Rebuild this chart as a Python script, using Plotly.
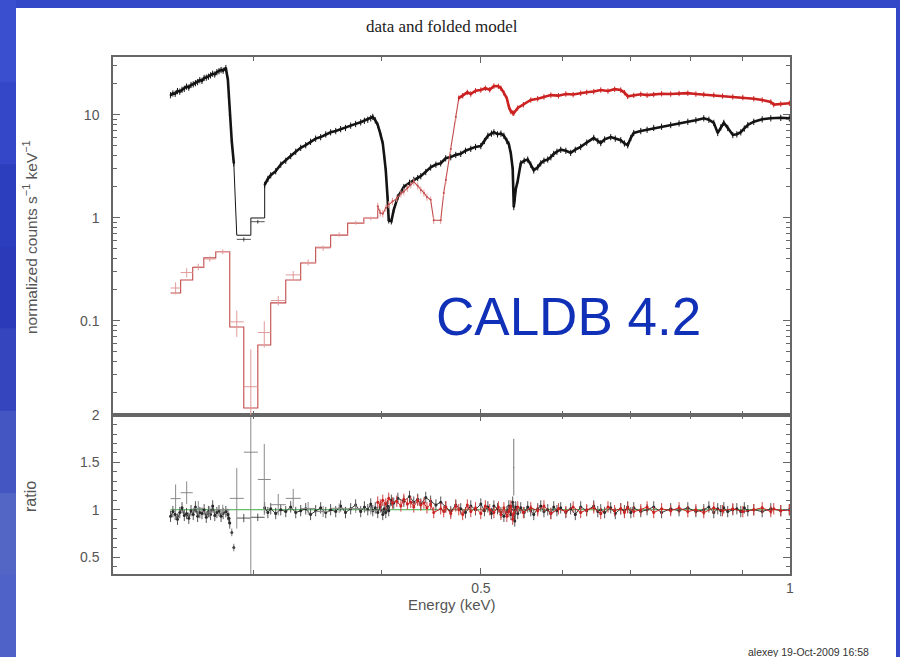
import math
import plotly.graph_objects as go

# ---------------------------------------------------------------------------
# Black spectrum, rising segment below the carbon edge (keV, counts/s/keV)
black_lo_E = [0.2492, 0.2505, 0.2518, 0.2531, 0.2544, 0.2557, 0.2570, 0.2583, 0.2596,
              0.2609, 0.2622, 0.2635, 0.2648, 0.2661, 0.2674, 0.2687, 0.2700, 0.2713,
              0.2726, 0.2739, 0.2752, 0.2765, 0.2778, 0.2791, 0.2804, 0.2821,
              0.2834, 0.2840, 0.2846, 0.2859, 0.2872]
black_lo_F = [15.6, 16.2, 16.1, 17.1, 16.9, 17.6, 18.0, 18.9, 18.5,
              19.6, 19.9, 20.4, 20.9, 21.8, 21.5, 22.9, 23.1, 23.6,
              24.3, 25.2, 24.8, 26.1, 26.7, 27.4, 27.0, 28.6,
              22.0, 15.0, 10.0, 5.5, 3.4]
black_lo_ratio = [0.93, 0.98, 0.95, 0.90, 0.97, 1.02, 0.94, 0.96, 0.91,
                  0.99, 0.95, 1.03, 0.93, 0.97, 0.96, 1.00, 0.92, 0.98,
                  0.95, 1.04, 0.94, 0.97, 0.99, 0.93, 0.96, 0.98,
                  0.95, 0.91, 0.86, 0.76, 0.60]

# Black coarse bins just above the carbon edge
black_bin_edges = [0.2891, 0.2984, 0.3078]
black_bin_model = [0.68, 1.00]
black_bin_data = [0.62, 0.92]
black_bin_err = [0.03, 0.04]

# Black spectrum above 0.31 keV
black_hi_E = [0.3078, 0.3100, 0.3120, 0.3155, 0.3191, 0.3227, 0.3263, 0.3300, 0.3337, 0.3375,
              0.3412, 0.3451, 0.3490, 0.3530, 0.3569, 0.3610, 0.3650, 0.3690, 0.3733, 0.3775,
              0.3818, 0.3850, 0.3879, 0.3905, 0.3923, 0.3945, 0.3967, 0.3990, 0.4012, 0.4025,
              0.4039, 0.4055, 0.4066, 0.4090, 0.4112, 0.4150, 0.4206, 0.4260, 0.4301, 0.4339,
              0.4369, 0.4418, 0.4467, 0.4520, 0.4569, 0.4620, 0.4673, 0.4726, 0.4779, 0.4830,
              0.4888, 0.4940, 0.4999, 0.5040, 0.5079, 0.5120, 0.5148, 0.5190, 0.5230, 0.5265,
              0.5300, 0.5324, 0.5348, 0.5370, 0.5383, 0.5395, 0.5407, 0.5431, 0.5468, 0.5510,
              0.5554, 0.5592, 0.5630, 0.5680, 0.5719, 0.5760, 0.5809, 0.5850, 0.5888, 0.5930,
              0.5981, 0.6050, 0.6116, 0.6180, 0.6255, 0.6340, 0.6441, 0.6500, 0.6543, 0.6600,
              0.6691, 0.6760, 0.6843, 0.6900, 0.6951, 0.7000, 0.7046, 0.7158, 0.7260, 0.7369,
              0.7500, 0.7655, 0.7800, 0.7955, 0.8100, 0.8245, 0.8340, 0.8432, 0.8507, 0.8566,
              0.8624, 0.8700, 0.8800, 0.8880, 0.8959, 0.9030, 0.9101, 0.9224, 0.9400, 0.9583,
              0.9800, 0.9990]
black_hi_F = [2.1, 2.4, 2.6, 2.85, 3.3, 3.6, 4.0, 4.4, 4.8, 5.1,
              5.5, 5.9, 6.1, 6.5, 6.8, 7.0, 7.3, 7.5, 7.9, 8.2,
              8.5, 8.8, 9.0, 9.3, 9.6, 8.9, 8.0, 6.6, 5.3, 4.0,
              2.9, 1.6, 0.95, 0.93, 1.2, 1.6, 2.0, 2.2, 2.35, 2.45,
              2.55, 2.8, 3.1, 3.3, 3.4, 3.8, 3.9, 4.1, 4.2, 4.5,
              4.7, 4.9, 5.0, 5.6, 6.3, 6.6, 6.8, 6.5, 6.6, 6.3,
              5.6, 5.2, 4.2, 3.0, 1.28, 1.5, 1.9, 2.3, 3.4, 3.6,
              3.7, 3.3, 2.9, 3.1, 3.4, 3.6, 3.7, 3.9, 4.2, 4.4,
              4.6, 4.5, 4.3, 4.6, 4.9, 5.4, 6.0, 5.6, 5.35, 5.8,
              6.1, 5.9, 5.7, 5.3, 5.1, 6.0, 6.7, 7.0, 7.2, 7.5,
              7.7, 8.0, 8.3, 8.6, 8.9, 9.3, 9.0, 8.4, 6.7, 7.6,
              8.4, 7.5, 6.4, 6.5, 6.8, 7.4, 8.0, 8.6, 9.1, 9.3,
              9.4, 9.3]
black_hi_ratio = [1.02, 0.97, 1.01, 0.96, 1.00, 0.98, 1.03, 0.97, 0.99, 1.01,
                  0.95, 0.99, 1.02, 0.97, 1.00, 0.98, 1.04, 0.97, 1.01, 1.05,
                  0.98, 1.03, 1.00, 1.06, 0.99, 1.02, 0.97, 1.03, 0.95, 1.01,
                  0.97, 1.04, 0.99,
                  1.10, 1.07, 1.12, 1.09, 1.14, 1.08, 1.11, 1.06, 1.13, 1.09, 1.05, 1.08,
                  1.03, 0.98, 1.05, 1.01, 0.97, 1.04, 1.00, 1.06, 0.99, 1.03,
                  0.96, 1.04, 1.01, 0.97, 0.93,
                  0.98, 1.04, 0.95, 1.08, 1.00, 0.88, 1.03, 0.96,
                  1.02, 0.97, 1.03, 0.99, 0.95, 1.01, 1.04, 0.98, 1.00, 0.96,
                  1.03, 0.99, 1.02, 0.97, 1.01, 0.95, 1.03, 0.99, 1.04, 0.98,
                  1.00, 0.97, 1.02, 0.96, 1.01, 0.99, 1.03, 0.97, 1.02, 0.98,
                  1.00, 1.03, 0.97, 1.01, 0.99, 1.02, 0.98, 1.00, 1.03, 0.97,
                  1.01, 0.99, 1.02, 0.98, 1.00, 1.01, 0.98, 1.02, 0.99, 1.00,
                  0.98, 1.01, 0.99, 1.00]

# Red spectrum: coarse bins below 0.4 keV (edges, folded model, data, 1-sigma)
red_bin_edges = [0.2492, 0.2549, 0.2619, 0.2685, 0.2758, 0.2846, 0.2937, 0.3031,
                 0.3120, 0.3227, 0.3337, 0.3451, 0.3569, 0.3708, 0.3845, 0.3967]
red_bin_model = [0.187, 0.25, 0.33, 0.41, 0.47, 0.0875, 0.0143, 0.0585,
                 0.15, 0.25, 0.365, 0.52, 0.68, 0.89, 1.0]
red_bin_data = [0.209, 0.295, 0.335, 0.40, 0.47, 0.098, 0.023, 0.0772,
                0.158, 0.28, 0.37, 0.51, 0.69, 0.90, 0.99]
red_bin_err = [0.028, 0.030, 0.025, 0.025, 0.025, 0.028, 0.030, 0.022,
               0.017, 0.025, 0.025, 0.030, 0.035, 0.040, 0.040]

# Red spectrum above 0.4 keV
red_E = [0.3967, 0.3990, 0.4012, 0.4039, 0.4066, 0.4100, 0.4140, 0.4178, 0.4206, 0.4240,
         0.4272, 0.4301, 0.4339, 0.4369, 0.4400, 0.4430, 0.4467, 0.4498, 0.4569, 0.4600,
         0.4622, 0.4673, 0.4726, 0.4758, 0.4800, 0.4850, 0.4888, 0.4940, 0.4999, 0.5050,
         0.5100, 0.5148, 0.5200, 0.5230, 0.5265, 0.5300, 0.5324, 0.5348, 0.5370, 0.5383,
         0.5431, 0.5500, 0.5592, 0.5680, 0.5760, 0.5850, 0.5950, 0.6050, 0.6150, 0.6255,
         0.6340, 0.6441, 0.6543, 0.6650, 0.6750, 0.6843, 0.6900, 0.6951, 0.7046, 0.7158,
         0.7260, 0.7369, 0.7500, 0.7655, 0.7800, 0.7955, 0.8100, 0.8245, 0.8432, 0.8600,
         0.8800, 0.9000, 0.9224, 0.9400, 0.9583, 0.9647, 0.9800, 0.9990]
red_F = [1.30, 1.12, 1.10, 1.25, 1.35, 1.45, 1.55, 1.72, 1.80, 1.95,
         2.10, 2.24, 2.05, 1.87, 1.75, 1.60, 1.50, 0.95, 0.95, 1.75,
         2.34, 4.67, 9.56, 14.6, 15.4, 16.6, 16.0, 17.2, 17.5, 18.2,
         17.6, 19.1, 19.0, 18.2, 16.4, 14.5, 12.0, 10.8, 10.5, 10.4,
         11.7, 12.6, 14.0, 14.4, 15.0, 15.6, 15.4, 16.0, 15.8, 16.3,
         16.6, 16.9, 17.5, 17.1, 17.8, 17.5, 16.5, 15.2, 15.5, 15.9,
         15.6, 15.8, 16.1, 16.0, 16.2, 16.3, 16.0, 15.8, 15.6, 15.3,
         15.0, 14.8, 14.4, 14.0, 13.4, 12.6, 12.8, 13.0]
red_ratio = [1.08, 1.05, 1.10, 1.06, 1.12, 1.07, 1.09, 1.04, 1.11, 1.06,
             1.08, 1.03, 1.10, 1.05, 1.07, 1.02, 1.06, 0.97, 1.01,
             0.98, 1.03, 0.96, 1.04, 1.00, 0.95, 1.05, 0.98, 1.02, 0.96,
             1.04, 1.00, 0.97, 1.03, 0.95, 1.02, 0.93, 0.98, 1.04, 0.90, 0.96,
             1.03, 0.97, 1.02, 0.99, 1.04, 0.96, 1.01, 0.98, 1.03, 0.97,
             1.00, 1.02, 0.96, 1.03, 0.99, 1.01, 0.97, 1.02, 0.98, 1.00,
             1.03, 0.97, 1.01, 0.99, 1.02, 0.98, 1.00, 0.97, 1.02, 0.99,
             1.01, 0.98, 1.00, 1.02, 0.98, 1.01, 0.99, 1.00]
# Red points below this energy are sparse (thin line), from it on densely binned
RED_DENSE_FROM = 0.4758

# Isolated ratio point with a wide error bar at the oxygen edge
edge_E = [0.5383]
edge_ratio = [1.45]
edge_err = [0.30]

assert len(black_lo_E) == len(black_lo_F) == len(black_lo_ratio)
assert len(black_hi_E) == len(black_hi_F) == len(black_hi_ratio)
assert len(red_E) == len(red_F) == len(red_ratio)
assert len(red_bin_edges) == len(red_bin_model) + 1 == len(red_bin_data) + 1

E_MIN, E_MAX = 0.219, 1.0005
BLACK = "#141414"
RED = "#cc2222"
RED_THIN = "#c24a4a"
RED_CROSS = "#e29a9a"
GREEN = "#3cb043"
AXIS = "#666666"
FONT = "Liberation Sans, Arial, sans-serif"


def steps(edges, levels):
    xs, ys = [], []
    for i, v in enumerate(levels):
        xs += [edges[i], edges[i + 1]]
        ys += [v, v]
    return xs, ys


def centres(edges):
    return [math.sqrt(edges[i] * edges[i + 1]) for i in range(len(edges) - 1)]


def half_widths(edges, cs):
    return ([edges[i + 1] - c for i, c in enumerate(cs)],
            [c - edges[i] for i, c in enumerate(cs)])


fig = go.Figure()

# ---------------- upper panel: data and folded model ----------------
bx, by = steps(black_bin_edges, black_bin_model)
fig.add_trace(go.Scatter(x=black_lo_E + bx + black_hi_E, y=black_lo_F + by + black_hi_F,
                         mode="lines", line=dict(color=BLACK, width=1),
                         xaxis="x2", yaxis="y2", hoverinfo="skip"))
fig.add_trace(go.Scatter(x=black_lo_E + [None] + black_hi_E, y=black_lo_F + [None] + black_hi_F,
                         mode="lines+markers", line=dict(color=BLACK, width=2.6),
                         marker=dict(size=2, color=BLACK),
                         error_y=dict(type="percent", value=7, color=BLACK, thickness=1, width=0),
                         xaxis="x2", yaxis="y2"))
bc = centres(black_bin_edges)
b_plus, b_minus = half_widths(black_bin_edges, bc)
fig.add_trace(go.Scatter(x=bc, y=black_bin_data, mode="markers", marker=dict(size=1, color=BLACK),
                         error_x=dict(type="data", symmetric=False, array=b_plus, arrayminus=b_minus,
                                      color="#555", thickness=1, width=0),
                         error_y=dict(type="data", array=black_bin_err, color="#555", thickness=1, width=0),
                         xaxis="x2", yaxis="y2"))

rx, ry = steps(red_bin_edges, red_bin_model)
fig.add_trace(go.Scatter(x=rx + red_E, y=ry + red_F, mode="lines",
                         line=dict(color=RED_THIN, width=1.1),
                         xaxis="x2", yaxis="y2", hoverinfo="skip"))
rc = centres(red_bin_edges)
r_plus, r_minus = half_widths(red_bin_edges, rc)
fig.add_trace(go.Scatter(x=rc, y=red_bin_data, mode="markers", marker=dict(size=1, color=RED_CROSS),
                         error_x=dict(type="data", symmetric=False, array=r_plus, arrayminus=r_minus,
                                      color=RED_CROSS, thickness=1, width=0),
                         error_y=dict(type="data", symmetric=False, array=red_bin_err,
                                      arrayminus=[min(e, 0.9 * d) for e, d in zip(red_bin_err, red_bin_data)],
                                      color=RED_CROSS, thickness=1, width=0),
                         xaxis="x2", yaxis="y2"))
sparse = [i for i, e in enumerate(red_E) if e < RED_DENSE_FROM]
dense = [i for i, e in enumerate(red_E) if e >= RED_DENSE_FROM]
fig.add_trace(go.Scatter(x=[red_E[i] for i in sparse], y=[red_F[i] for i in sparse],
                         mode="markers", marker=dict(size=2, color=RED_THIN),
                         error_y=dict(type="percent", value=8, color=RED_CROSS, thickness=1, width=0),
                         xaxis="x2", yaxis="y2"))
fig.add_trace(go.Scatter(x=[red_E[i] for i in dense], y=[red_F[i] for i in dense],
                         mode="lines+markers", line=dict(color=RED, width=2.6),
                         marker=dict(size=2, color=RED),
                         error_y=dict(type="percent", value=6, color=RED, thickness=1, width=0),
                         xaxis="x2", yaxis="y2"))

# ---------------- lower panel: ratio ----------------
fig.add_trace(go.Scatter(x=[black_lo_E[0], red_E[-1]], y=[1.0, 1.0], mode="lines",
                         line=dict(color=GREEN, width=1), hoverinfo="skip"))
fig.add_trace(go.Scatter(x=black_lo_E[:-2] + [None] + black_hi_E,
                         y=black_lo_ratio[:-2] + [None] + black_hi_ratio,
                         mode="lines+markers", line=dict(color="#3a3a3a", width=1),
                         marker=dict(size=3, color="#2a2a2a"),
                         error_y=dict(type="constant", value=0.06, color="#555", thickness=1, width=0)))
fig.add_trace(go.Scatter(x=black_lo_E[-2:], y=black_lo_ratio[-2:], mode="markers",
                         marker=dict(size=3, color="#444"),
                         error_y=dict(type="constant", value=0.04, color="#777", thickness=1, width=0)))
fig.add_trace(go.Scatter(x=bc, y=[d / m for d, m in zip(black_bin_data, black_bin_model)],
                         mode="markers", marker=dict(size=1, color="#444"),
                         error_x=dict(type="data", symmetric=False, array=b_plus, arrayminus=b_minus,
                                      color="#555", thickness=1, width=0),
                         error_y=dict(type="data", array=[e / m for e, m in zip(black_bin_err, black_bin_model)],
                                      color="#555", thickness=1, width=0)))
fig.add_trace(go.Scatter(x=rc, y=[d / m for d, m in zip(red_bin_data, red_bin_model)],
                         mode="markers", marker=dict(size=1, color="#888"),
                         error_x=dict(type="data", symmetric=False, array=r_plus, arrayminus=r_minus,
                                      color="#8a8a8a", thickness=1, width=0),
                         error_y=dict(type="data", array=[e / m for e, m in zip(red_bin_err, red_bin_model)],
                                      color="#8a8a8a", thickness=1, width=0)))
fig.add_trace(go.Scatter(x=red_E, y=red_ratio, mode="lines+markers",
                         line=dict(color=RED, width=1), marker=dict(size=3, color=RED),
                         error_y=dict(type="constant", value=0.06, color="#d04040", thickness=1, width=0)))
fig.add_trace(go.Scatter(x=edge_E, y=edge_ratio, mode="markers", marker=dict(size=1, color="#666"),
                         error_y=dict(type="data", array=edge_err, color="#777", thickness=1, width=0)))

# ---------------- axes ----------------
tick_font = dict(family=FONT, size=14, color="#555")
x_common = dict(type="log", range=[math.log10(E_MIN), math.log10(E_MAX)],
                showline=True, linecolor=AXIS, linewidth=1.5, mirror="ticks",
                ticks="inside", ticklen=6, tickcolor=AXIS, tickwidth=1,
                showgrid=False, zeroline=False,
                tickvals=[0.5, 1.0], ticktext=["0.5", "1"], tickfont=tick_font,
                minor=dict(tickmode="array", tickvals=[0.3, 0.4, 0.6, 0.7, 0.8, 0.9],
                           ticks="inside", ticklen=4, tickcolor=AXIS, showgrid=False))

top_minor = [k * 10 ** p for p in (-2, -1, 0, 1) for k in range(2, 10)]
ratio_minor = [round(0.4 + 0.1 * i, 2) for i in range(16)]

# slide backdrop: blue frame with a soft vertical shading on the left strip
strip_cols = ["#3a4fd0", "#3347c8", "#2c3ebd", "#2a3ab8", "#3445bd", "#4456c2", "#5366c6", "#4e62c8"]
backdrop = [dict(type="rect", xref="paper", yref="paper", x0=0, x1=16 / 900,
                 y0=1 - (i + 1) / len(strip_cols), y1=1 - i / len(strip_cols),
                 fillcolor=c, line=dict(width=0), layer="below")
            for i, c in enumerate(strip_cols)]
backdrop.append(dict(type="rect", xref="paper", yref="paper", x0=16 / 900, x1=896 / 900,
                     y0=0, y1=1 - 8 / 657, fillcolor="white", line=dict(width=0), layer="below"))


def note(text, px, py, size, **kw):
    return dict(text=text, x=px / 900, y=1 - py / 657, xref="paper", yref="paper",
                xanchor="center", yanchor="middle", showarrow=False,
                font=dict(family=kw.pop("family", FONT), size=size, color=kw.pop("color", "#555")), **kw)


fig.update_layout(
    width=900, height=657,
    margin=dict(l=0, r=0, t=0, b=0),
    paper_bgcolor="#3348c8",
    plot_bgcolor="white",
    showlegend=False,
    xaxis=dict(domain=[113 / 900, 790 / 900], anchor="y", ticklabelstandoff=0,
               automargin=False, **x_common),
    xaxis2=dict(domain=[113 / 900, 790 / 900], anchor="y2", matches="x", automargin=False,
                **{**x_common, "showticklabels": False}),
    yaxis=dict(domain=[1 - 574 / 657, 1 - 415 / 657], anchor="x", automargin=False,
               range=[0.3204, 2.0015], showline=True, linecolor=AXIS, linewidth=1.5,
               mirror="ticks", ticks="inside", ticklen=7, tickcolor=AXIS,
               showgrid=False, zeroline=False,
               tickvals=[0.5, 1.0, 1.5, 2.0], ticktext=["0.5", "1", "1.5", "2"],
               tickfont=tick_font, ticklabelstandoff=9,
               minor=dict(tickmode="array", tickvals=ratio_minor, ticks="inside",
                          ticklen=4, tickcolor=AXIS, showgrid=False)),
    yaxis2=dict(domain=[1 - 415 / 657, 1 - 57 / 657], anchor="x2", type="log", automargin=False,
                range=[-1.913, 1.563], showline=True, linecolor=AXIS, linewidth=1.5,
                mirror="ticks", ticks="inside", ticklen=7, tickcolor=AXIS,
                showgrid=False, zeroline=False,
                tickvals=[0.1, 1, 10], ticktext=["0.1", "1", "10"],
                tickfont=tick_font, ticklabelstandoff=9,
                minor=dict(tickmode="array", tickvals=top_minor, ticks="inside",
                           ticklen=4, tickcolor=AXIS, showgrid=False)),
    shapes=backdrop,
    annotations=[
        note("data and folded model", 442, 27, 17,
             family="Liberation Serif, Times New Roman, serif", color="#222"),
        note("normalized counts s<sup>−1</sup> keV<sup>−1</sup>", 30, 237, 15.5, textangle=-90),
        note("ratio", 30, 497, 16, textangle=-90),
        note("Energy (keV)", 452, 604, 15),
        note("CALDB 4.2", 568, 316, 53, color="#1030b8"),
        note("alexey 19-Oct-2009 16:58", 808, 652, 10.5, color="#333"),
    ],
)

fig.write_html("out.html")
